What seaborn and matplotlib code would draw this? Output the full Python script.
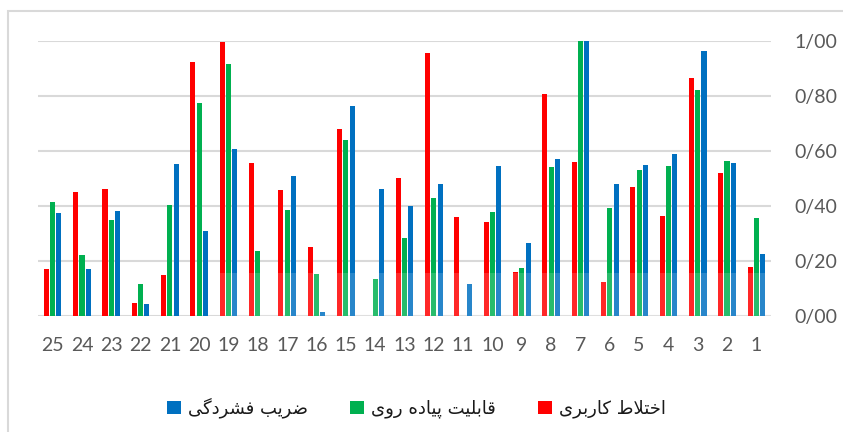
import matplotlib
matplotlib.use('Agg')
import matplotlib.pyplot as plt
import seaborn as sns
import pandas as pd
from matplotlib.patches import Rectangle
from matplotlib.ticker import FuncFormatter

# zones 1..25 (drawn right to left, as in the source chart)
categories = list(range(1, 26))
mixed_use = [0.179, 0.519, 0.865, 0.365, 0.469, 0.124, 0.559, 0.808, 0.160, 0.342,
             0.359, 0.955, 0.501, 0.0, 0.679, 0.252, 0.456, 0.555, 0.994, 0.922,
             0.148, 0.048, 0.461, 0.450, 0.171]
walkability = [0.357, 0.562, 0.822, 0.545, 0.532, 0.393, 1.0, 0.541, 0.176, 0.378,
               0.0, 0.429, 0.285, 0.133, 0.639, 0.153, 0.384, 0.235, 0.915, 0.773,
               0.404, 0.116, 0.347, 0.221, 0.413]
density = [0.227, 0.554, 0.962, 0.589, 0.549, 0.478, 1.0, 0.569, 0.264, 0.545,
           0.118, 0.481, 0.398, 0.462, 0.764, 0.013, 0.508, 0.0, 0.607, 0.310,
           0.553, 0.045, 0.383, 0.170, 0.373]

series_names = ['اختلاط کاربری', 'قابلیت پیاده روی', 'ضریب فشردگی']
colors = ['#FF0000', '#00B050', '#0070C0']

# matplotlib does no Arabic shaping / bidi, so the legend uses the
# contextual presentation forms of the same words (logical order here)
shaped_forms = {
    'اختلاط کاربری': [0xFE8D, 0xFEA7, 0xFE98, 0xFEFC, 0xFEC1, 0x20,
                      0xFB90, 0xFE8E, 0xFEAD, 0xFE91, 0xFEAE, 0xFBFC],
    'قابلیت پیاده روی': [0xFED7, 0xFE8E, 0xFE91, 0xFEE0, 0xFBFF, 0xFE96, 0x20,
                         0xFB58, 0xFBFF, 0xFE8E, 0xFEA9, 0xFEE9, 0x20,
                         0xFEAD, 0xFEED, 0xFBFC],
    'ضریب فشردگی': [0xFEBF, 0xFEAE, 0xFBFE, 0xFE90, 0x20,
                    0xFED3, 0xFEB8, 0xFEAE, 0xFEA9, 0xFB94, 0xFBFD],
}


def visual(name):
    return ''.join(chr(c) for c in reversed(shaped_forms[name]))


df = pd.DataFrame({
    'zone': categories * 3,
    'series': [s for s in series_names for _ in categories],
    'value': mixed_use + walkability + density,
})

sns.set_style('white')
plt.rcParams['font.family'] = ['Lato', 'DejaVu Sans']

fig = plt.figure(figsize=(8.43, 4.32), dpi=100)
ax = fig.add_axes([38 / 843, 1 - 316 / 432, 733 / 843, 275.3 / 432])

sns.barplot(data=df, x='zone', y='value', hue='series',
            order=categories[::-1], hue_order=series_names,
            palette=colors, width=0.645, gap=0.2, saturation=1,
            linewidth=0, ax=ax)

ax.set_ylim(0, 1)
ax.set_xlim(-0.5, len(categories) - 0.5)
ax.set_yticks([0, 0.2, 0.4, 0.6, 0.8, 1.0])
ax.yaxis.set_major_formatter(FuncFormatter(lambda v, p: f'{v:.2f}'.replace('.', '/')))
ax.yaxis.tick_right()
ax.grid(axis='y', color='#D9D9D9', linewidth=1.5)
ax.set_axisbelow(True)
for s in ax.spines.values():
    s.set_visible(False)
ax.tick_params(axis='y', length=0, pad=17, labelsize=14, labelcolor='#595959')
ax.tick_params(axis='x', length=0, pad=15, labelsize=14, labelcolor='#595959')
ax.set_xlabel('')
ax.set_ylabel('')

# faint watermark band lightening the bar bottoms
ax.axhspan(0, 0.158, xmin=0.248, xmax=1, color='white', alpha=0.16, zorder=3, lw=0)

# move the legend below the plot, blue first as in the original
old = ax.get_legend()
handles = list(old.legend_handles)[::-1]
labels = [visual(t.get_text()) for t in old.get_texts()][::-1]
old.remove()
leg = fig.legend(handles, labels, loc='center', bbox_to_anchor=(0.494, 1 - 408 / 432),
                 ncol=3, frameon=False, handlelength=0.78, handleheight=0.78,
                 handletextpad=0.4, columnspacing=2.3,
                 prop={'family': 'DejaVu Sans', 'size': 13})
for t in leg.get_texts():
    t.set_color('#1a1a1a')

# chart area border
fig.add_artist(Rectangle((8 / 843, -0.1), 1.2, 1.1 - 11 / 432, fill=False,
                         edgecolor='#D9D9D9', linewidth=1.5,
                         transform=fig.transFigure))

fig.savefig('out.png', dpi=100)
